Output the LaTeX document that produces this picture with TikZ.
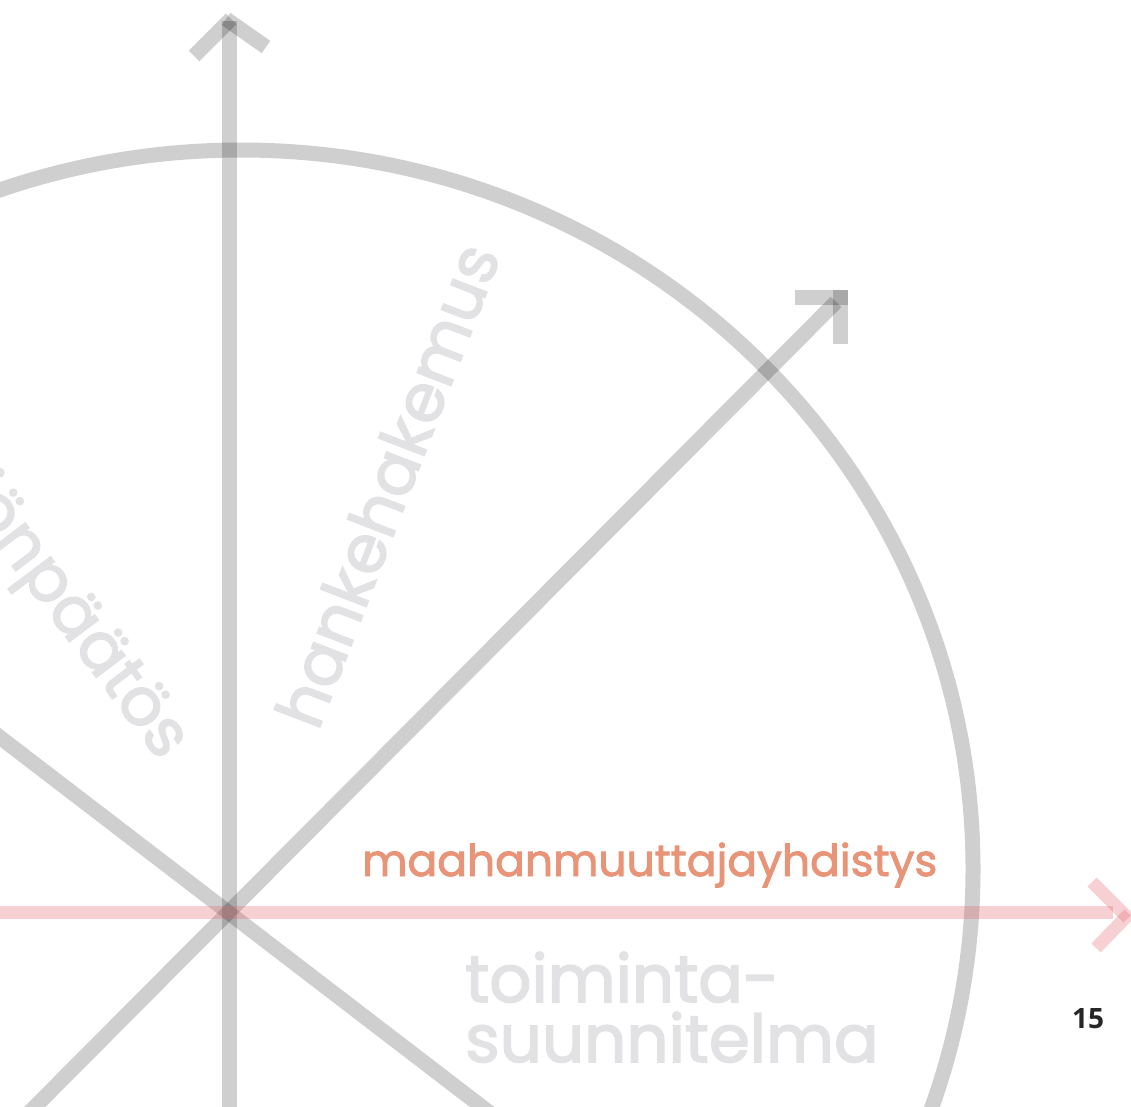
\documentclass[tikz,border=0pt]{standalone}
\usepackage{fontspec}
\setmainfont{Poppins}
\newfontfamily\heavyfont{Poppins}[FakeBold=2.4]
\newfontfamily\medfont{Poppins}[FakeBold=2]
\newfontfamily\numfont{Open Sans}
\definecolor{salmon}{RGB}{232,148,120}
\definecolor{txtgray}{RGB}{226,226,228}
\definecolor{pinkline}{RGB}{230,100,110}
\tikzset{
  graybar/.style={draw=black, draw opacity=0.19, line width=15pt},
  pinkbar/.style={draw=pinkline, draw opacity=0.3, line width=13pt},
  bigword/.style={text=txtgray, inner sep=0pt, font=\heavyfont\fontsize{66}{60}\selectfont},
}
\begin{document}
\begin{tikzpicture}[x=1pt,y=-1pt]
\useasboundingbox (0,0) rectangle (1131,1106);
\clip (0,0) rectangle (1131,1106);
% texts (behind lines)
\node[bigword, anchor=base west] (t1) at (465,1002) {toiminta-};
\node[bigword, anchor=base west] (t2) at (465,1062) {suunnitelma};
\node[bigword, anchor=base west, rotate=69] (hh) at (318,732) {hankehakemus};
\node[bigword, anchor=base east, rotate=-53] (pp) at (160,762) {säätiönpäätös};
\node[text=salmon, inner sep=0pt, anchor=base west, font=\medfont\fontsize{44}{50}\selectfont] (mj) at (362,876) {maahanmuuttajayhdistys};
\node[text=black!85, inner sep=0pt, anchor=base west, font=\numfont\bfseries\fontsize{28}{30}\selectfont] (pg) at (1072,1028) {15};
% coordinates
\coordinate (O) at (229,913);
\coordinate (vtop) at (229,21);
\coordinate (vbot) at (229,1120);
\coordinate (d1a) at (-30,1172);
\coordinate (d1b) at (836,302);
\coordinate (d2a) at (-20,722);
\coordinate (d2b) at (490,1113);
\coordinate (ha) at (0,912);
\coordinate (hb) at (1113,912);
% circle arc
\draw[graybar] (241,869) ellipse [x radius=732, y radius=719];
% axes
\draw[graybar] (vbot) -- (vtop);
\draw[graybar] (d1a) -- (d1b);
\draw[graybar] (d2a) -- (d2b);
% arrow heads
\draw[graybar] (194,56) -- (231,19);
\draw[graybar] (226,19) -- (266,47);
\draw[graybar] (795,297) -- (848,297);
\draw[graybar] (840.5,290) -- (840.5,344);
% pink axis
\draw[pinkbar] (ha) -- (hb);
\draw[pinkbar] (1092,882) -- (1128,918);
\draw[pinkbar] (1129,914) -- (1096,948);
\end{tikzpicture}
\end{document}
